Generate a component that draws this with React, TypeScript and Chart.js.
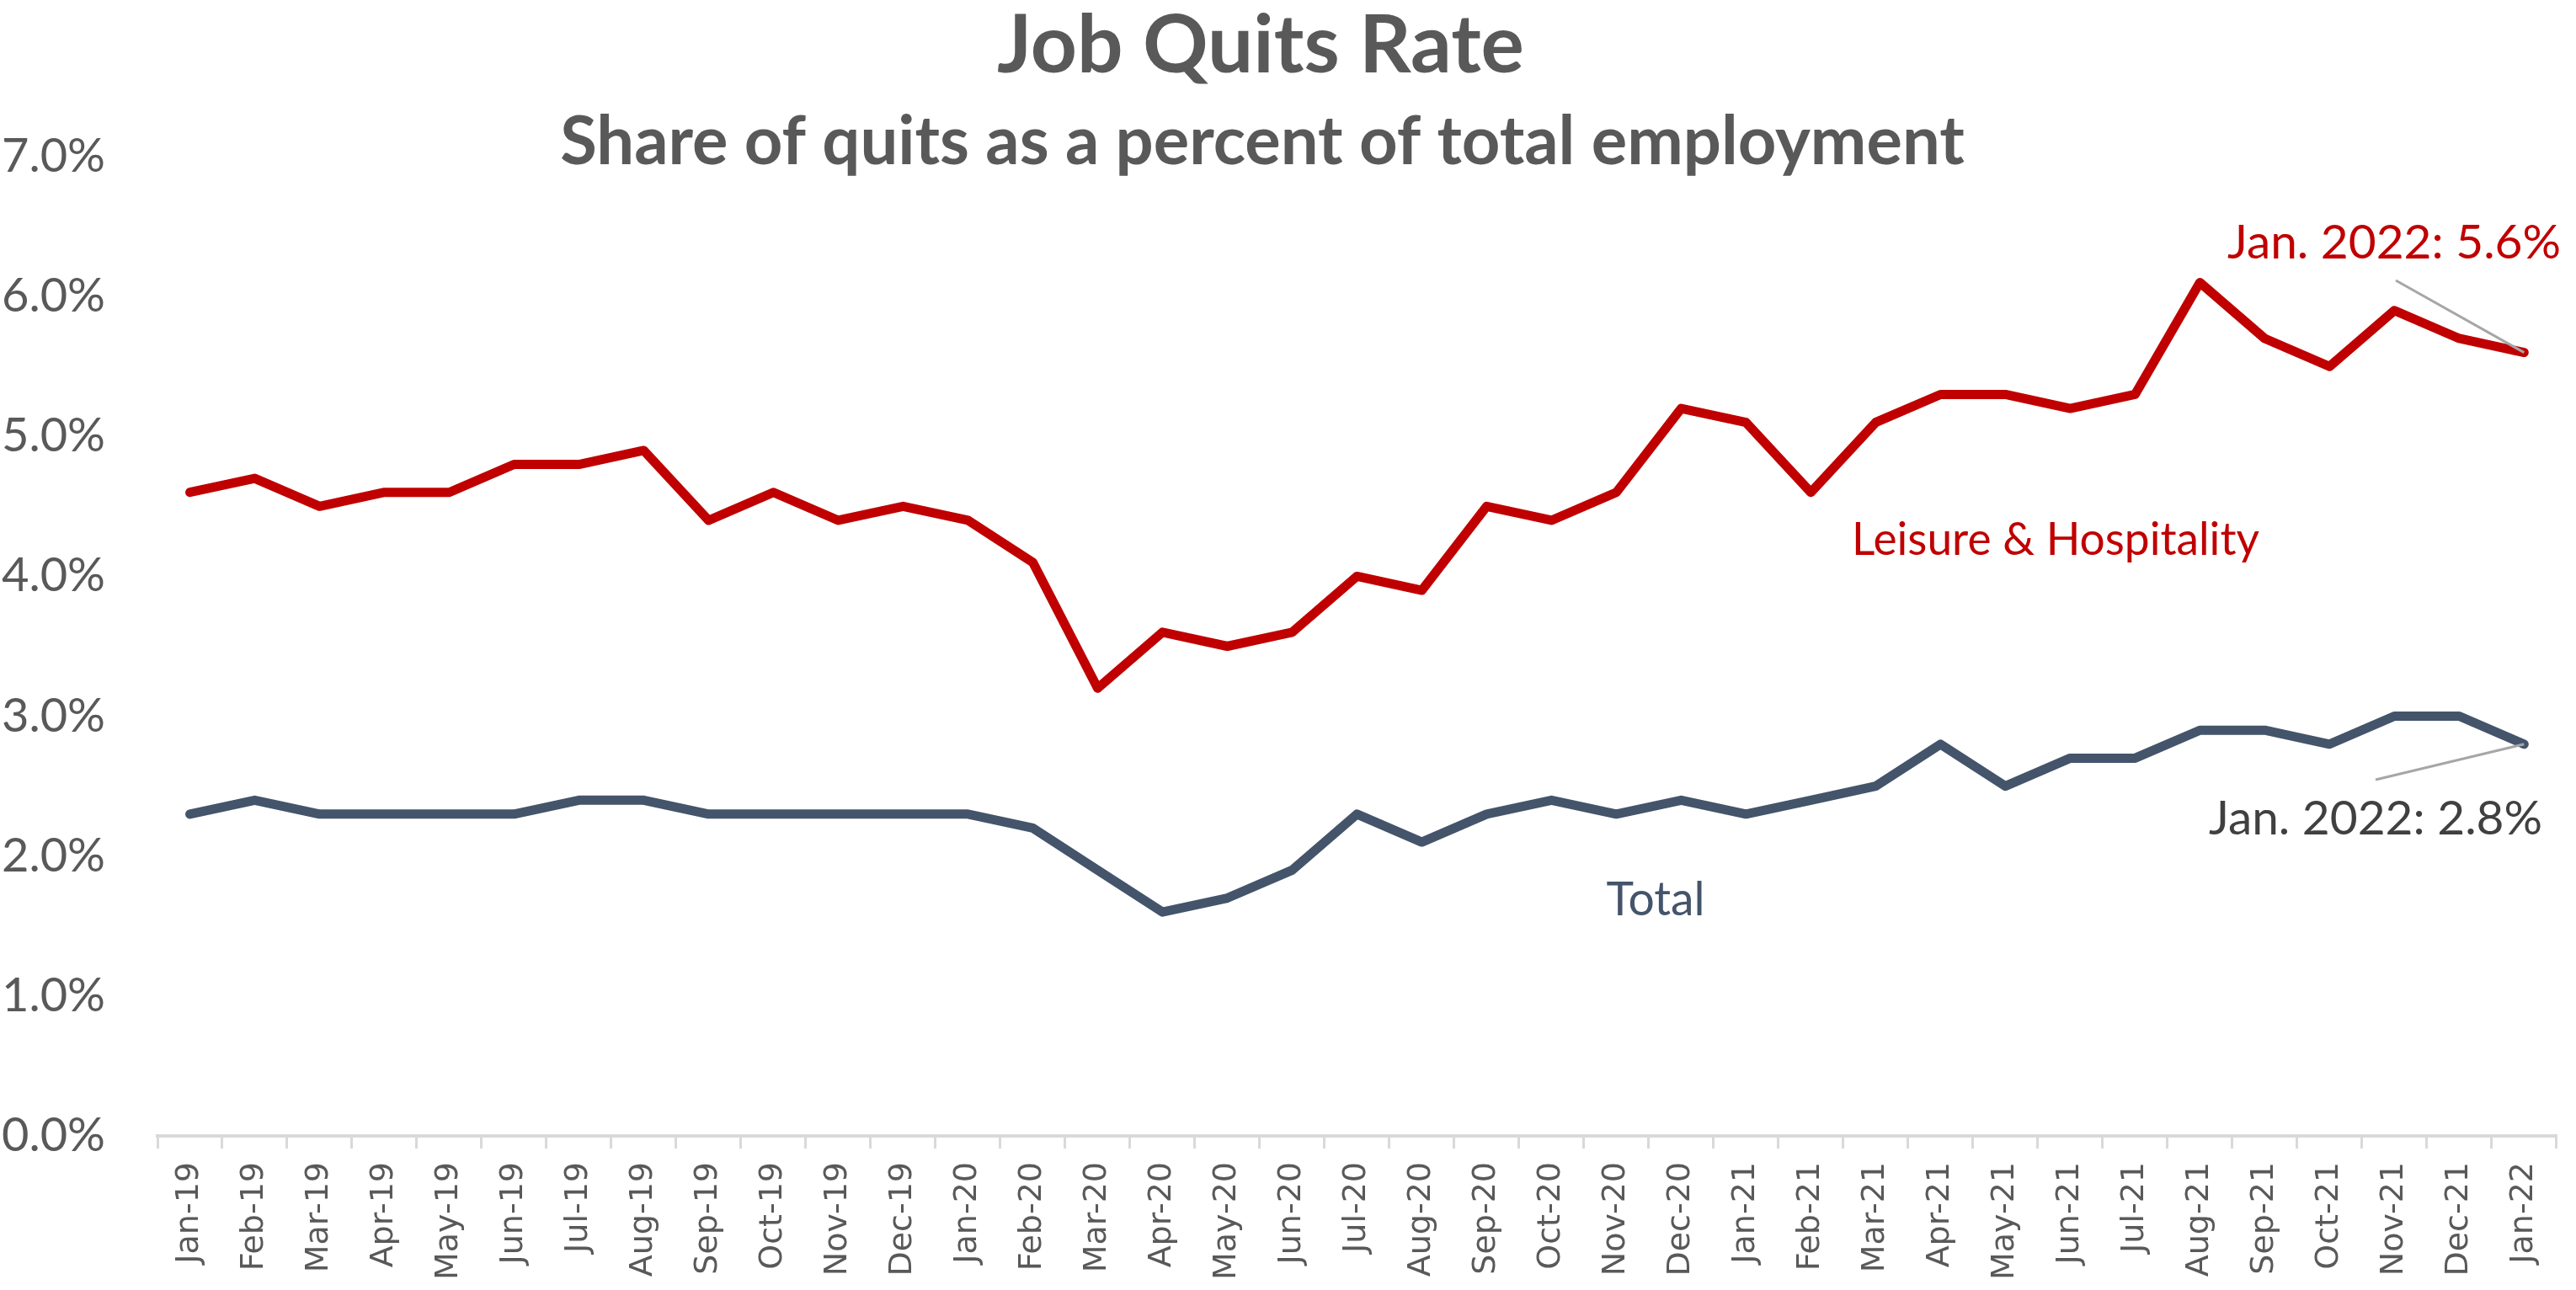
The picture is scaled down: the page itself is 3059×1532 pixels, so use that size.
import { useEffect, useRef } from 'react';
import { Chart, registerables } from 'chart.js';

Chart.register(...registerables);

// Monthly categories, Jan 2019 – Jan 2022
const months = [
  'Jan-19', 'Feb-19', 'Mar-19', 'Apr-19', 'May-19', 'Jun-19', 'Jul-19', 'Aug-19', 'Sep-19', 'Oct-19', 'Nov-19', 'Dec-19',
  'Jan-20', 'Feb-20', 'Mar-20', 'Apr-20', 'May-20', 'Jun-20', 'Jul-20', 'Aug-20', 'Sep-20', 'Oct-20', 'Nov-20', 'Dec-20',
  'Jan-21', 'Feb-21', 'Mar-21', 'Apr-21', 'May-21', 'Jun-21', 'Jul-21', 'Aug-21', 'Sep-21', 'Oct-21', 'Nov-21', 'Dec-21',
  'Jan-22',
];

// Quits as a percent of total employment
const leisureHospitality = [
  4.6, 4.7, 4.5, 4.6, 4.6, 4.8, 4.8, 4.9, 4.4, 4.6, 4.4, 4.5,
  4.4, 4.1, 3.2, 3.6, 3.5, 3.6, 4.0, 3.9, 4.5, 4.4, 4.6, 5.2,
  5.1, 4.6, 5.1, 5.3, 5.3, 5.2, 5.3, 6.1, 5.7, 5.5, 5.9, 5.7,
  5.6,
];

const totalNonfarm = [
  2.3, 2.4, 2.3, 2.3, 2.3, 2.3, 2.4, 2.4, 2.3, 2.3, 2.3, 2.3,
  2.3, 2.2, 1.9, 1.6, 1.7, 1.9, 2.3, 2.1, 2.3, 2.4, 2.3, 2.4,
  2.3, 2.4, 2.5, 2.8, 2.5, 2.7, 2.7, 2.9, 2.9, 2.8, 3.0, 3.0,
  2.8,
];

// Percent axis range
const yAxisMin = 0;
const yAxisMax = 7;
const yAxisStep = 1;

const TITLE = 'Job Quits Rate';
const SUBTITLE = 'Share of quits as a percent of total employment';
const LEISURE_LABEL = 'Leisure & Hospitality';
const TOTAL_LABEL = 'Total';
const LATEST_PERIOD = 'Jan. 2022';

const WIDTH = 3059;
const HEIGHT = 1532;

const RED = '#C00000';
const SLATE = '#44546A';
const GREY_TEXT = '#595959';
const CALLOUT_GREY = '#404040';
const LEADER = '#A6A6A6';
const AXIS = '#D9D9D9';

const LABEL_FONT = 'Lato, "Open Sans", sans-serif';

// Pick a font size so the text spans the given width
function fitFont(ctx: CanvasRenderingContext2D, text: string, weight: string, family: string, width: number) {
  ctx.font = `${weight} 100px ${family}`;
  const w = ctx.measureText(text).width;
  const size = (100 * width) / w;
  ctx.font = `${weight} ${size}px ${family}`;
  return size;
}

const notesPlugin = {
  id: 'quitsNotes',
  afterDraw(chart: any) {
    const { ctx } = chart;
    const x = chart.scales.x;
    const y = chart.scales.y;
    ctx.save();

    // Titles
    ctx.fillStyle = GREY_TEXT;
    ctx.textAlign = 'center';
    ctx.textBaseline = 'alphabetic';
    fitFont(ctx, TITLE, 'bold', LABEL_FONT, 626);
    ctx.fillText(TITLE, 1497, 86);
    fitFont(ctx, SUBTITLE, 'bold', LABEL_FONT, 1668);
    ctx.fillText(SUBTITLE, 1499, 195);

    // Series names
    fitFont(ctx, LEISURE_LABEL, 'normal', LABEL_FONT, 484);
    ctx.fillStyle = RED;
    ctx.fillText(LEISURE_LABEL, 2441, 659);
    fitFont(ctx, TOTAL_LABEL, 'normal', LABEL_FONT, 117);
    ctx.fillStyle = SLATE;
    ctx.fillText(TOTAL_LABEL, 1966, 1087);

    // Latest-value callouts with leader lines
    const last = months.length - 1;
    const px = x.getPixelForValue(last);
    const redValue = leisureHospitality[last];
    const totalValue = totalNonfarm[last];
    const redY = y.getPixelForValue(redValue);
    const totalY = y.getPixelForValue(totalValue);

    ctx.strokeStyle = LEADER;
    ctx.lineWidth = 3;
    ctx.lineCap = 'butt';
    ctx.beginPath();
    ctx.moveTo(2845, 333);
    ctx.lineTo(px, redY);
    ctx.moveTo(2821, 926);
    ctx.lineTo(px, totalY);
    ctx.stroke();

    ctx.textAlign = 'right';
    const redText = `${LATEST_PERIOD}: ${redValue.toFixed(1)}%`;
    fitFont(ctx, redText, 'normal', LABEL_FONT, 396);
    ctx.fillStyle = RED;
    ctx.fillText(redText, 3041, 307);

    const totalText = `${LATEST_PERIOD}: ${totalValue.toFixed(1)}%`;
    fitFont(ctx, totalText, 'normal', LABEL_FONT, 396);
    ctx.fillStyle = CALLOUT_GREY;
    ctx.fillText(totalText, 3019, 991);

    ctx.restore();
  },
};

export default function App() {
  const canvasRef = useRef<HTMLCanvasElement | null>(null);

  useEffect(() => {
    document.body.style.margin = '0';
    document.body.style.overflow = 'hidden';
    const canvas = canvasRef.current;
    if (!canvas) return;

    const lineStyle = {
      borderWidth: 11,
      pointRadius: 0,
      pointHoverRadius: 0,
      tension: 0,
      borderJoinStyle: 'round' as const,
      borderCapStyle: 'round' as const,
      fill: false,
    };

    const chart = new Chart(canvas, {
      type: 'line',
      data: {
        labels: months,
        datasets: [
          { label: LEISURE_LABEL, data: leisureHospitality, borderColor: RED, backgroundColor: RED, ...lineStyle },
          { label: TOTAL_LABEL, data: totalNonfarm, borderColor: SLATE, backgroundColor: SLATE, ...lineStyle },
        ],
      },
      options: {
        animation: false,
        responsive: false,
        maintainAspectRatio: false,
        devicePixelRatio: 1,
        layout: { padding: { top: 186, right: 2, left: 0, bottom: 0 } },
        plugins: {
          legend: { display: false },
          tooltip: { enabled: false },
          title: { display: false },
        },
        scales: {
          x: {
            type: 'category',
            offset: true,
            grid: {
              display: true,
              drawOnChartArea: false,
              drawTicks: true,
              tickLength: 15,
              color: AXIS,
              lineWidth: 3,
              offset: true,
            },
            border: { display: true, color: AXIS, width: 4 },
            ticks: {
              autoSkip: false,
              maxRotation: 90,
              minRotation: 90,
              padding: 16,
              color: GREY_TEXT,
              font: { family: '"DejaVu Sans", sans-serif', size: 38 },
            },
            afterFit: (scale: any) => {
              scale.height = HEIGHT - 1349;
            },
          },
          y: {
            min: yAxisMin,
            max: yAxisMax,
            ticks: {
              stepSize: yAxisStep,
              padding: 62,
              color: GREY_TEXT,
              font: { family: LABEL_FONT, size: 56 },
              callback: (v: any) => `${Number(v).toFixed(1)}%`,
            },
            grid: { display: false, drawTicks: false },
            border: { display: false },
            afterFit: (scale: any) => {
              scale.width = 187;
            },
          },
        },
      },
      plugins: [notesPlugin],
    });

    let alive = true;
    if (document.fonts && document.fonts.load) {
      Promise.all([
        document.fonts.load('56px Lato'),
        document.fonts.load('bold 56px Lato'),
        document.fonts.load('38px "DejaVu Sans"'),
      ]).then(() => {
        if (alive) chart.update();
      }).catch(() => {});
    }

    return () => {
      alive = false;
      chart.destroy();
    };
  }, []);

  return (
    <div style={{ width: WIDTH, height: HEIGHT, background: '#ffffff' }}>
      <canvas ref={canvasRef} width={WIDTH} height={HEIGHT} style={{ display: 'block' }} />
    </div>
  );
}
